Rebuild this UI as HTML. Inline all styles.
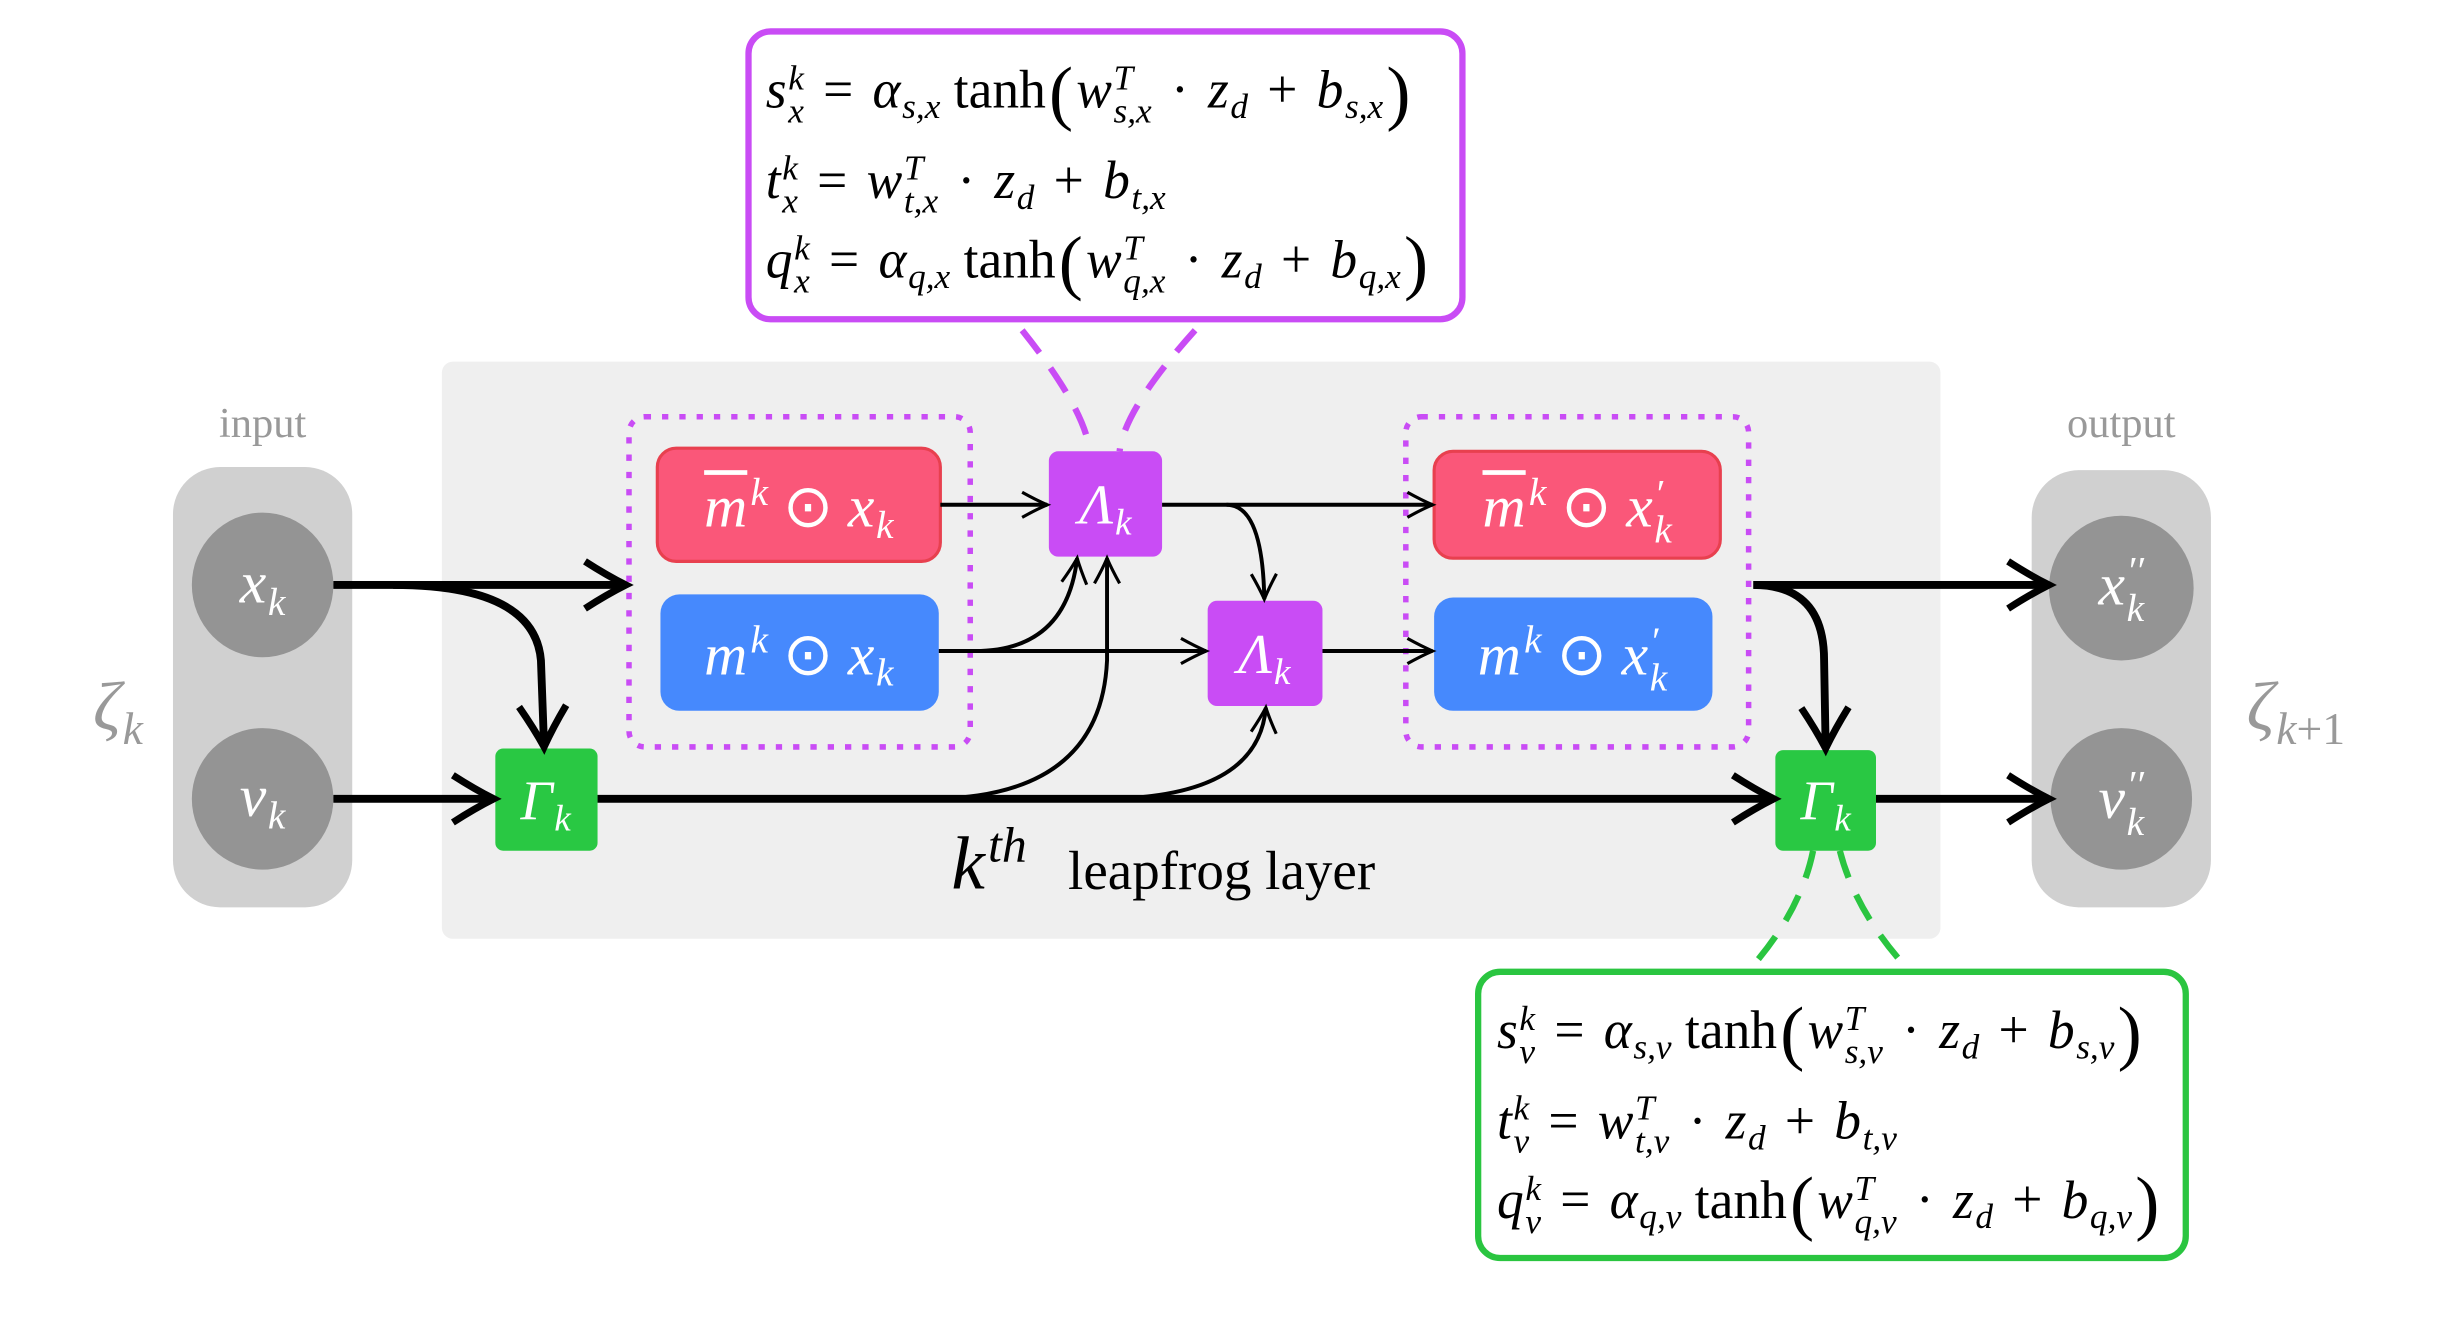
<!DOCTYPE html>
<html><head><meta charset="utf-8"><style>
html,body{margin:0;padding:0;background:#fff;overflow:hidden}
#w{width:1567px;height:850px;position:relative;transform:scale(1.5725);transform-origin:0 0}
svg{position:absolute;left:0;top:0}
.t{position:absolute;font-family:"Liberation Serif",serif;white-space:nowrap;line-height:1}
.i{font-style:italic}
.ss{display:inline-block;vertical-align:-0.42em;font-size:0.66em;line-height:0.95;text-align:left;font-style:italic;margin-left:1px}
.ss span{display:block}
.sb{font-size:0.66em;vertical-align:-0.3em;font-style:italic;margin-left:1px}
.sp{font-size:0.66em;vertical-align:0.55em;font-style:italic;margin-left:2px}
.f{font-size:34px;color:#000}
.o{margin:0 0.36em}
.w{color:#fff}
.g{color:#999}
.c{text-align:center;transform:translateX(-50%)}
.big{font-size:46px;vertical-align:-0.12em;font-style:normal;margin:0 2px}
</style></head><body><div id="w">
<svg width="1560" height="846" viewBox="0 0 1560 846">
<defs>
<marker id="at" markerUnits="userSpaceOnUse" markerWidth="40" markerHeight="40" refX="0" refY="0" viewBox="-30 -20 40 40" orient="auto" overflow="visible">
<path d="M-26,-15 Q-12,-6 0,0 Q-12,6 -26,15" fill="none" stroke="#000" stroke-width="4.5"/>
</marker>
<marker id="an" markerUnits="userSpaceOnUse" markerWidth="30" markerHeight="30" refX="0" refY="0" viewBox="-20 -15 30 30" orient="auto" overflow="visible">
<path d="M-16,-8 Q-7,-3 0,0 Q-7,3 -16,8" fill="none" stroke="#000" stroke-width="2"/>
</marker>
</defs>
<rect x="281" y="230" width="953" height="367" rx="7" fill="#efefef"/>
<rect x="110" y="297" width="114" height="280" rx="30" fill="#d0d0d0"/>
<rect x="1292" y="299" width="114" height="278" rx="30" fill="#d0d0d0"/>
<ellipse cx="167" cy="372" rx="45" ry="46" fill="#949494"/>
<ellipse cx="167" cy="508" rx="45" ry="45" fill="#949494"/>
<ellipse cx="1349" cy="374" rx="46" ry="46" fill="#949494"/>
<ellipse cx="1349" cy="508" rx="45" ry="45" fill="#949494"/>
<rect x="400" y="265" width="217" height="210" rx="10" fill="none" stroke="#c94cf5" stroke-width="3.5" stroke-dasharray="4,7"/>
<rect x="894" y="265" width="218" height="210" rx="10" fill="none" stroke="#c94cf5" stroke-width="3.5" stroke-dasharray="4,7"/>
<rect x="418" y="285" width="180" height="72" rx="12" fill="#fa5779" stroke="#e8404f" stroke-width="2"/>
<rect x="420" y="378" width="177" height="74" rx="12" fill="#4689fd"/>
<rect x="912" y="287" width="182" height="68" rx="12" fill="#fa5779" stroke="#e8404f" stroke-width="2"/>
<rect x="912" y="380" width="177" height="72" rx="12" fill="#4689fd"/>
<rect x="667" y="287" width="72" height="67" rx="6" fill="#c94cf5"/>
<rect x="768" y="382" width="73" height="67" rx="6" fill="#c94cf5"/>
<rect x="315" y="476" width="65" height="65" rx="5" fill="#29c843"/>
<rect x="1129" y="477" width="64" height="64" rx="5" fill="#29c843"/>
<rect x="476" y="20" width="454" height="183" rx="14" fill="#fff" stroke="#c94cf5" stroke-width="4"/>
<rect x="940" y="618" width="450" height="182" rx="14" fill="#fff" stroke="#2ac540" stroke-width="4"/>
<path d="M650,210 Q690,260 693,287" fill="none" stroke="#c94cf5" stroke-width="4" stroke-dasharray="18,12"/>
<path d="M760,210 Q715,260 712,287" fill="none" stroke="#c94cf5" stroke-width="4" stroke-dasharray="18,12"/>
<path d="M1153,541 Q1145,580 1113,616" fill="none" stroke="#2ac540" stroke-width="4" stroke-dasharray="18,12"/>
<path d="M1170,541 Q1180,580 1213,616" fill="none" stroke="#2ac540" stroke-width="4" stroke-dasharray="18,12"/>
<g fill="none" stroke="#000" stroke-width="5">
<path d="M212,372 L398,372" marker-end="url(#at)"/>
<path d="M250,372 Q340,372 344,420 L346,475" marker-end="url(#at)"/>
<path d="M212,508 L314,508" marker-end="url(#at)"/>
<path d="M380,508 L1128,508" marker-end="url(#at)"/>
<path d="M1115,372 L1303,372" marker-end="url(#at)"/>
<path d="M1115,372 Q1160,372 1160,420 L1161,476" marker-end="url(#at)"/>
<path d="M1193,508 L1303,508" marker-end="url(#at)"/>
</g>
<g fill="none" stroke="#000" stroke-width="2.5">
<path d="M598,321 L666,321" marker-end="url(#an)"/>
<path d="M597,414 L767,414" marker-end="url(#an)"/>
<path d="M620,414 Q678,414 685,355" marker-end="url(#an)"/>
<path d="M590,508 Q700,508 704,420 L704,355" marker-end="url(#an)"/>
<path d="M700,508 Q800,508 805,450" marker-end="url(#an)"/>
<path d="M739,321 L911,321" marker-end="url(#an)"/>
<path d="M780,321 Q803,321 804,381" marker-end="url(#an)"/>
<path d="M841,414 L911,414" marker-end="url(#an)"/>
</g>
</svg>
<div class="t g c" style="left:167px;top:256px;font-size:27px">input</div>
<div class="t g c" style="left:1349px;top:256px;font-size:27px">output</div>
<div class="t g c i" style="left:75px;top:428px;font-size:44px">ζ<span class="sb">k</span></div>
<div class="t g c i" style="left:1460px;top:428px;font-size:44px">ζ<span class="sb">k<span style="font-style:normal">+1</span></span></div>
<div class="t w c i" style="left:167px;top:352px;font-size:38px">x<span class="sb">k</span></div>
<div class="t w c i" style="left:167px;top:488px;font-size:38px">v<span class="sb">k</span></div>
<div class="t w c i" style="left:1349px;top:352px;font-size:38px">x<span class="ss"><span>′′</span><span>k</span></span></div>
<div class="t w c i" style="left:1349px;top:488px;font-size:38px">v<span class="ss"><span>′′</span><span>k</span></span></div>
<div class="t w c i" style="left:508px;top:301px;font-size:38px"><span style="text-decoration:overline">m</span><span class="sp">k</span> <span style="font-style:normal">⊙</span> x<span class="sb">k</span></div>
<div class="t w c i" style="left:508px;top:395px;font-size:38px">m<span class="sp">k</span> <span style="font-style:normal">⊙</span> x<span class="sb">k</span></div>
<div class="t w c i" style="left:1003px;top:301px;font-size:38px"><span style="text-decoration:overline">m</span><span class="sp">k</span> <span style="font-style:normal">⊙</span> x<span class="ss"><span>′</span><span>k</span></span></div>
<div class="t w c i" style="left:1000px;top:395px;font-size:38px">m<span class="sp">k</span> <span style="font-style:normal">⊙</span> x<span class="ss"><span>′</span><span>k</span></span></div>
<div class="t w c i" style="left:703px;top:303px;font-size:36px">Λ<span class="sb">k</span></div>
<div class="t w c i" style="left:804px;top:398px;font-size:36px">Λ<span class="sb">k</span></div>
<div class="t w c i" style="left:347px;top:491px;font-size:36px">Γ<span class="sb">k</span></div>
<div class="t w c i" style="left:1161px;top:491px;font-size:36px">Γ<span class="sb">k</span></div>
<div class="t" style="left:605px;top:522px;font-size:35px"><span class="i" style="font-size:48px">k<span class="sp">th</span></span> &nbsp;&nbsp;leapfrog layer</div>

<div class="t f" style="left:487px;top:36px"><span class="i">s</span><span class="ss"><span>k</span><span>x</span></span><span class="o">=</span><span class="i">α</span><span class="sb">s,x</span> tanh<span class="big">(</span><span class="i">w</span><span class="ss"><span>T</span><span>s,x</span></span><span class="o">·</span><span class="i">z</span><span class="sb">d</span><span class="o">+</span><span class="i">b</span><span class="sb">s,x</span><span class="big">)</span></div>
<div class="t f" style="left:487px;top:96px"><span class="i">t</span><span class="ss"><span>k</span><span>x</span></span><span class="o">=</span><span class="i">w</span><span class="ss"><span>T</span><span>t,x</span></span><span class="o">·</span><span class="i">z</span><span class="sb">d</span><span class="o">+</span><span class="i">b</span><span class="sb">t,x</span></div>
<div class="t f" style="left:487px;top:144px"><span class="i">q</span><span class="ss"><span>k</span><span>x</span></span><span class="o">=</span><span class="i">α</span><span class="sb">q,x</span> tanh<span class="big">(</span><span class="i">w</span><span class="ss"><span>T</span><span>q,x</span></span><span class="o">·</span><span class="i">z</span><span class="sb">d</span><span class="o">+</span><span class="i">b</span><span class="sb">q,x</span><span class="big">)</span></div>

<div class="t f" style="left:952px;top:634px"><span class="i">s</span><span class="ss"><span>k</span><span>v</span></span><span class="o">=</span><span class="i">α</span><span class="sb">s,v</span> tanh<span class="big">(</span><span class="i">w</span><span class="ss"><span>T</span><span>s,v</span></span><span class="o">·</span><span class="i">z</span><span class="sb">d</span><span class="o">+</span><span class="i">b</span><span class="sb">s,v</span><span class="big">)</span></div>
<div class="t f" style="left:952px;top:694px"><span class="i">t</span><span class="ss"><span>k</span><span>v</span></span><span class="o">=</span><span class="i">w</span><span class="ss"><span>T</span><span>t,v</span></span><span class="o">·</span><span class="i">z</span><span class="sb">d</span><span class="o">+</span><span class="i">b</span><span class="sb">t,v</span></div>
<div class="t f" style="left:952px;top:742px"><span class="i">q</span><span class="ss"><span>k</span><span>v</span></span><span class="o">=</span><span class="i">α</span><span class="sb">q,v</span> tanh<span class="big">(</span><span class="i">w</span><span class="ss"><span>T</span><span>q,v</span></span><span class="o">·</span><span class="i">z</span><span class="sb">d</span><span class="o">+</span><span class="i">b</span><span class="sb">q,v</span><span class="big">)</span></div>
</div></body></html>
